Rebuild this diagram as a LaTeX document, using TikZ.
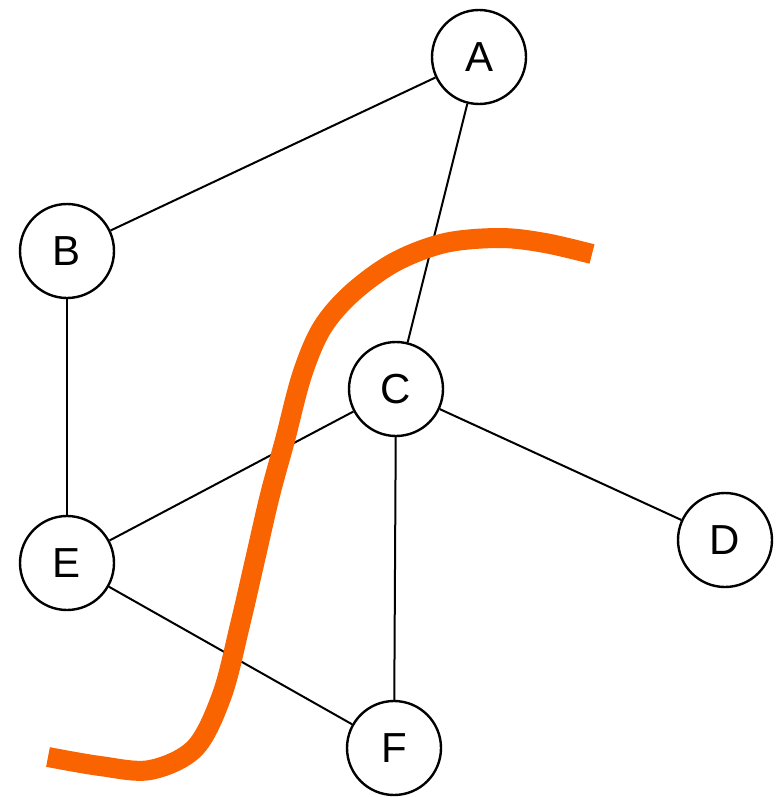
\documentclass[tikz,border=0pt]{standalone}
\usepackage{fontspec}
\setmainfont{Liberation Sans}
\begin{document}
\begin{tikzpicture}[x=1pt, y=-1pt,
  vertex/.style={circle, draw=black, line width=2.4pt, fill=white,
    minimum size=94pt, inner sep=0pt,
    font=\fontsize{42}{48}\selectfont},
  edge/.style={draw=black, line width=2pt},
  cut/.style={draw=cutorange, line width=20pt, line cap=butt, line join=round}]
\definecolor{cutorange}{RGB}{250,100,0}
\useasboundingbox (0,0) rectangle (777,797);
\fill[white] (0,0) rectangle (777,797);

% vertices
\node[vertex] (A) at (479,57) {A};
\node[vertex] (B) at (67,251) {B};
\node[vertex] (C) at (396,389) {C};
\node[vertex] (D) at (725,540) {D};
\node[vertex] (E) at (67,563) {E};
\node[vertex] (F) at (394,748) {F};

% edges
\draw[edge] (A) -- (B);
\draw[edge] (A) -- (C);
\draw[edge] (B) -- (E);
\draw[edge] (C) -- (E);
\draw[edge] (C) -- (D);
\draw[edge] (C) -- (F);
\draw[edge] (E) -- (F);

% cut curve
\draw[cut] plot[smooth, tension=0.55] coordinates {
  (48,757) (100,766) (150,770) (195,748) (222,695) (240,625)
  (255,560) (270,495) (285,440) (302,375) (322,328) (352,293)
  (395,262) (445,243) (500,238) (545,243) (592,254)};
\end{tikzpicture}
\end{document}
